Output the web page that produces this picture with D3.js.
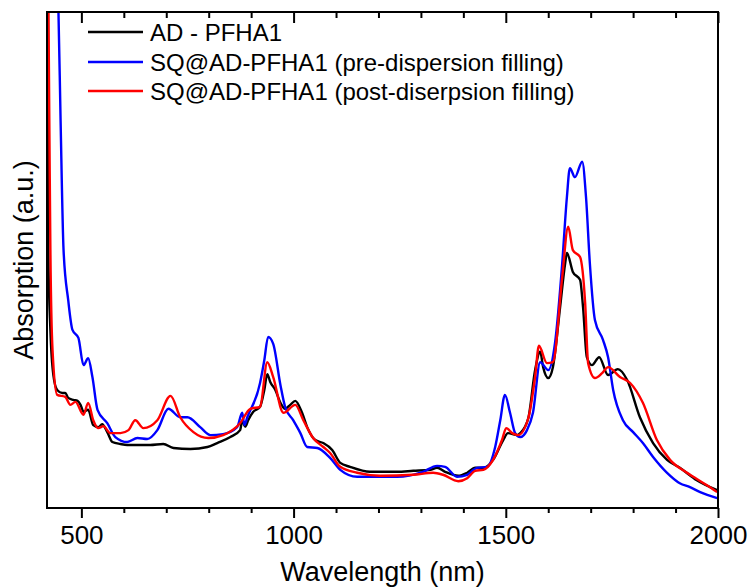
<!DOCTYPE html>
<html>
<head>
<meta charset="utf-8">
<script src="https://cdn.jsdelivr.net/npm/d3@7"></script>
<style>
  body { margin: 0; background: #fff; }
  svg { display: block; }
  text { font-family: Arial, "Liberation Sans", sans-serif; fill: #000; }
</style>
</head>
<body>
<svg id="chart" width="749" height="588"></svg>
<script>
// series data (wavelength in nm, absorption in arbitrary units)
const seriesNames = ['AD - PFHA1', 'SQ@AD-PFHA1 (pre-dispersion filling)', 'SQ@AD-PFHA1 (post-diserpsion filling)'];
const seriesColors = ['#000000', '#0000ff', '#ff0000'];

const adWave = [421, 422, 427, 434, 443, 455, 462, 469, 481, 491, 498, 505, 516, 528, 540, 549, 561, 573, 592, 608, 639, 662, 693, 717, 757, 797, 820, 851, 874, 879, 886, 893, 905, 921, 931, 938, 945, 957, 969, 980, 992, 1004, 1020, 1032, 1051, 1070, 1091, 1110, 1133, 1180, 1244, 1282, 1322, 1338, 1357, 1388, 1409, 1428, 1447, 1470, 1494, 1505, 1527, 1534, 1553, 1569, 1581, 1588, 1600, 1611, 1628, 1640, 1644, 1658, 1675, 1682, 1691, 1703, 1720, 1741, 1764, 1786, 1816, 1847, 1880, 1910, 1950, 1998];
const adAbs = [105, 52, 35.9, 26.8, 23.8, 23.2, 23.2, 22.2, 21.8, 21.6, 20.8, 19.4, 19.8, 16.7, 16.3, 16.9, 15.3, 13.3, 12.9, 12.7, 12.7, 12.7, 12.9, 12.1, 11.9, 12.3, 13.1, 14.3, 15.7, 17.6, 16.4, 17.7, 19.4, 20.4, 23.8, 27.0, 25.4, 23.8, 21.2, 20.0, 20.8, 21.6, 19.2, 16.3, 13.7, 13.1, 11.7, 9.1, 8.3, 7.3, 7.3, 7.5, 7.7, 8.1, 7.3, 6.5, 7.1, 8.1, 8.1, 9.7, 13.7, 15.1, 14.7, 15.1, 18.1, 27.8, 31.5, 28.4, 26.2, 28.4, 40.5, 49.4, 51.4, 47.6, 46.0, 40.5, 30.4, 28.8, 30.4, 26.8, 28.0, 25.8, 18.3, 13.1, 9.7, 8.1, 5.6, 3.6];

const preWave = [441, 446, 451, 458, 469, 479, 493, 505, 516, 526, 538, 561, 580, 608, 632, 655, 679, 705, 733, 750, 780, 804, 834, 867, 879, 884, 891, 921, 931, 940, 952, 969, 980, 999, 1016, 1032, 1056, 1086, 1110, 1150, 1244, 1305, 1338, 1357, 1385, 1409, 1432, 1456, 1475, 1487, 1498, 1510, 1522, 1534, 1550, 1564, 1581, 1600, 1616, 1633, 1644, 1651, 1663, 1680, 1689, 1698, 1710, 1729, 1741, 1753, 1776, 1800, 1823, 1847, 1880, 1910, 1934, 1958, 1998];
const preAbs = [110, 100, 78.2, 52.0, 41.9, 35.9, 34.3, 28.8, 30.2, 26.4, 19.8, 17.1, 14.3, 13.3, 14.1, 13.9, 15.7, 20.0, 18.3, 18.3, 16.3, 14.7, 14.9, 16.3, 19.2, 16.7, 18.3, 25.2, 29.8, 34.5, 33.1, 24.8, 20.4, 17.7, 15.1, 12.3, 12.1, 10.1, 7.7, 6.3, 6.3, 7.3, 8.5, 8.3, 6.3, 6.7, 8.1, 8.3, 12.3, 17.7, 22.8, 19.2, 15.1, 14.3, 15.7, 19.2, 29.4, 27.8, 33.3, 49.4, 62.7, 68.5, 66.7, 69.8, 62.7, 49.4, 37.9, 33.9, 30.4, 23.8, 17.7, 15.3, 13.1, 10.3, 7.1, 5.0, 4.2, 3.2, 2.0];

const postWave = [422, 425, 427, 432, 443, 462, 474, 486, 505, 516, 528, 540, 552, 568, 592, 611, 627, 646, 679, 710, 733, 764, 799, 834, 874, 898, 921, 938, 952, 976, 1004, 1023, 1046, 1070, 1086, 1110, 1150, 1204, 1282, 1329, 1352, 1388, 1409, 1428, 1447, 1470, 1491, 1501, 1515, 1529, 1553, 1569, 1578, 1597, 1611, 1633, 1647, 1658, 1675, 1687, 1694, 1710, 1727, 1741, 1769, 1793, 1823, 1856, 1887, 1927, 1974, 1998];
const postAbs = [105, 72.2, 52.0, 31.9, 22.8, 22.4, 20.8, 21.4, 18.8, 21.2, 17.7, 16.1, 16.5, 15.1, 15.1, 15.7, 17.7, 16.1, 17.7, 22.6, 18.3, 15.3, 14.1, 14.7, 17.1, 20.0, 20.4, 29.4, 26.4, 19.2, 20.8, 17.7, 14.1, 12.3, 11.1, 8.3, 7.1, 6.5, 6.7, 7.1, 6.7, 5.4, 6.0, 7.5, 7.7, 9.7, 13.7, 16.1, 15.1, 14.7, 18.1, 26.4, 32.7, 29.2, 29.4, 46.6, 56.7, 52.0, 50.6, 41.3, 29.2, 26.2, 27.2, 28.4, 26.4, 25.2, 21.2, 13.7, 9.7, 7.1, 4.6, 3.2];

const majorTicks = [500, 1000, 1500, 2000];
const minorTicks = [600, 700, 800, 900, 1100, 1200, 1300, 1400, 1600, 1700, 1800, 1900];

const svg = d3.select('#chart');
const margin = { top: 12, right: 31, bottom: 80, left: 47 };
const width = 749 - margin.left - margin.right;
const height = 588 - margin.top - margin.bottom;

const x = d3.scaleLinear().domain([419, 2000]).range([0, width]);
const y = d3.scaleLinear().domain([0, 100]).range([height, 0]);

const g = svg.append('g').attr('transform', `translate(${margin.left},${margin.top})`);

svg.append('defs').append('clipPath').attr('id', 'plot-clip')
  .append('rect').attr('width', width).attr('height', height);

const zipSeries = (w, a) => w.map((d, i) => ({ w: d, a: a[i] }));
const allSeries = [zipSeries(adWave, adAbs), zipSeries(preWave, preAbs), zipSeries(postWave, postAbs)];

const line = d3.line()
  .x(d => x(d.w))
  .y(d => y(d.a))
  .curve(d3.curveMonotoneX);

// draw order: black, blue, red (red on top)
const plot = g.append('g').attr('clip-path', 'url(#plot-clip)');
allSeries.forEach((s, i) => {
  plot.append('path')
    .attr('d', line(s))
    .attr('fill', 'none')
    .attr('stroke', seriesColors[i])
    .attr('stroke-width', 2.4)
    .attr('stroke-linejoin', 'round');
});

// bottom axis (ticks outward)
const styleAxis = sel => {
  sel.select('.domain').remove();
  sel.selectAll('line').attr('stroke', '#000').attr('stroke-width', 2);
};
g.append('g').attr('transform', `translate(0,${height})`)
  .call(d3.axisBottom(x).tickValues(majorTicks).tickSize(10).tickPadding(8).tickFormat(d3.format('d')))
  .call(styleAxis)
  .call(s => s.selectAll('text').attr('font-size', 26).attr('font-family', 'Arial, "Liberation Sans", sans-serif'));
g.append('g').attr('transform', `translate(0,${height})`)
  .call(d3.axisBottom(x).tickValues(minorTicks).tickSize(5).tickFormat(''))
  .call(styleAxis);

// top axis (ticks inward)
g.append('g')
  .call(d3.axisTop(x).tickValues(majorTicks).tickSize(-11).tickFormat(''))
  .call(styleAxis);
g.append('g')
  .call(d3.axisTop(x).tickValues(minorTicks).tickSize(-6).tickFormat(''))
  .call(styleAxis);

// frame
g.append('rect')
  .attr('width', width).attr('height', height)
  .attr('fill', 'none').attr('stroke', '#000').attr('stroke-width', 2);

// axis titles
svg.append('text')
  .attr('x', margin.left + width / 2).attr('y', 581)
  .attr('text-anchor', 'middle').attr('font-size', 27)
  .text('Wavelength (nm)');
svg.append('text')
  .attr('transform', `translate(33,${margin.top + height / 2}) rotate(-90)`)
  .attr('text-anchor', 'middle').attr('font-size', 27)
  .text('Absorption (a.u.)');

// legend
const legend = svg.append('g');
const legendY = [32, 62, 91];
seriesNames.forEach((name, i) => {
  legend.append('line')
    .attr('x1', 88).attr('x2', 143)
    .attr('y1', legendY[i]).attr('y2', legendY[i])
    .attr('stroke', seriesColors[i]).attr('stroke-width', 2.4);
  legend.append('text')
    .attr('x', 150).attr('y', legendY[i] + 9)
    .attr('font-size', 24)
    .text(name);
});
</script>
</body>
</html>
